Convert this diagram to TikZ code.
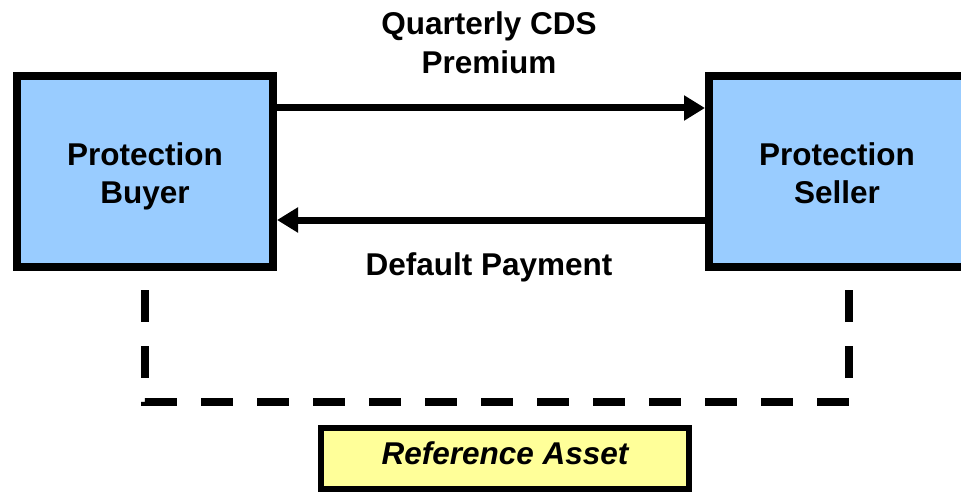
\documentclass[tikz,border=0pt]{standalone}
\usepackage{fontspec}
\setmainfont{Liberation Sans}
\usetikzlibrary{arrows.meta}

\definecolor{partyblue}{HTML}{99CCFF}
\definecolor{assetyellow}{HTML}{FFFF99}

\tikzset{
	party/.style={draw, line width=7.7pt, fill=partyblue, inner sep=0pt,
		minimum width=256.3pt, minimum height=191.3pt, align=center,
		font=\bfseries\fontsize{31.5}{38}\selectfont, text height=70pt, text depth=7pt},
	asset/.style={draw, line width=5.7pt, fill=assetyellow, inner sep=0pt,
		minimum width=368pt, minimum height=61pt,
		font=\bfseries\itshape\fontsize{31.5}{38}\selectfont, text height=23pt, text depth=12pt},
	flowlabel/.style={align=center, inner sep=0pt, anchor=base,
		font=\bfseries\fontsize{31.5}{39}\selectfont},
	flow/.style={line width=7pt, -{Triangle[length=21pt, width=24pt]}},
	link/.style={line width=8pt, dash pattern=on 32pt off 24pt}
}

\begin{document}
\begin{tikzpicture}[x=1pt, y=-1pt]
		%%%%% frame %%%%%
		\clip (0, 0) rectangle (961, 492);
		
		%%%%% the two parties %%%%%
		\node[party] (buyer) at (145, 171.5) {Protection\\Buyer};
		\node[party] (seller) at (837, 171.5) {Protection\\Seller};
		
		%%%%% cash flows %%%%%
		\draw[flow] ([yshift=63.5pt]buyer.east) -- ([yshift=63.5pt]seller.west);
		\draw[flow] ([yshift=-48.5pt]seller.west) -- ([yshift=-48.5pt]buyer.east);
		
		% base sits on the last line
		\node[flowlabel] (premium) at (489, 74) {Quarterly CDS\\Premium};
		\node[flowlabel] (payment) at (489, 275) {Default Payment};
		
		%%%%% link to the asset %%%%%
		\coordinate (buyerlink) at (145, 290);
		\coordinate (sellerlink) at (849, 290);
		\draw[link] (buyerlink) -- ++(0, 112) -| (sellerlink);
		
		\node[asset] (refasset) at (505, 458.5) {Reference Asset};
		
	\end{tikzpicture}
\end{document}
